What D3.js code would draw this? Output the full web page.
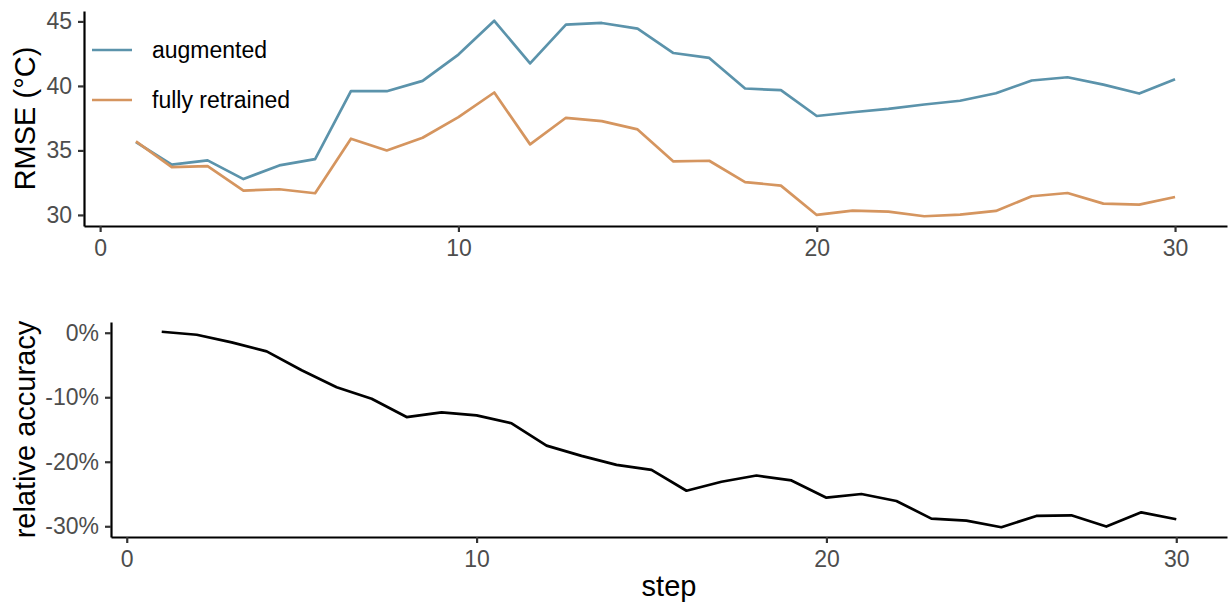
<!DOCTYPE html>
<html>
<head>
<meta charset="utf-8">
<script src="https://cdn.jsdelivr.net/npm/d3@7"></script>
<style>
  html, body { margin: 0; padding: 0; background: #fff; }
  svg { display: block; font-family: "Liberation Sans", Arial, sans-serif; }
</style>
</head>
<body>
<svg id="chart" width="1229" height="606"></svg>
<script>
// Steps 1..30
const steps = d3.range(1, 31);

// RMSE (°C) per step
const augmented = [35.64, 33.90, 34.23, 32.78, 33.84, 34.33, 39.59, 39.59, 40.39, 42.43,
                   45.05, 41.75, 44.75, 44.88, 44.44, 42.55, 42.17, 39.80, 39.67, 37.67,
                   37.96, 38.22, 38.56, 38.85, 39.43, 40.42, 40.67, 40.10, 39.41, 40.52];
const fullyRetrained = [35.70, 33.71, 33.79, 31.89, 31.99, 31.68, 35.91, 35.00, 35.98, 37.58,
                        39.49, 35.47, 37.53, 37.27, 36.63, 34.15, 34.20, 32.55, 32.27, 30.00,
                        30.34, 30.26, 29.90, 30.03, 30.31, 31.45, 31.70, 30.88, 30.80, 31.39];

// Relative accuracy (fraction)
const relativeAccuracy = [0.0015, -0.0031, -0.0150, -0.0289, -0.0582, -0.0844, -0.1024, -0.1307, -0.1235, -0.1281,
                          -0.1404, -0.1750, -0.1909, -0.2048, -0.2125, -0.2449, -0.2310, -0.2213, -0.2290, -0.2557,
                          -0.2500, -0.2608, -0.2881, -0.2912, -0.3015, -0.2840, -0.2830, -0.3005, -0.2784, -0.2892];

const seriesNames = ["augmented", "fully retrained"];
const seriesColors = ["#5b93ab", "#d5955f"];

const xTicks = [0, 10, 20, 30];
const rmseTicks = [30, 35, 40, 45];
const relTicks = [0, -0.1, -0.2, -0.3];

const svg = d3.select("#chart");
const tickFont = "23px";
const titleFont = "29px";
const lineWidth = 2.7;

// expand a [min,max] extent by 5% each side
function expand(ext) {
  const pad = (ext[1] - ext[0]) * 0.05;
  return [ext[0] - pad, ext[1] + pad];
}

function styleAxis(g) {
  g.select(".domain").attr("stroke", "#000").attr("stroke-width", 2.2);
  g.selectAll(".tick line").attr("stroke", "#333").attr("stroke-width", 2.2);
  g.selectAll(".tick text").attr("fill", "#4d4d4d").style("font-size", tickFont)
    .style("font-family", "'Liberation Sans', Arial, sans-serif");
}

// ---- upper panel: RMSE
const upper = { left: 84, right: 1227, top: 11, bottom: 226 };
const xUp = d3.scaleLinear().domain(expand([1, 30])).range([upper.left, upper.right]);
const yUp = d3.scaleLinear()
  .domain(expand([d3.min(fullyRetrained.concat(augmented)), d3.max(fullyRetrained.concat(augmented))]))
  .range([upper.bottom, upper.top]);

const gUp = svg.append("g");
[augmented, fullyRetrained].forEach((vals, i) => {
  gUp.append("path")
    .datum(vals)
    .attr("fill", "none")
    .attr("stroke", seriesColors[i])
    .attr("stroke-width", lineWidth)
    .attr("stroke-linejoin", "round")
    .attr("d", d3.line().x((d, j) => xUp(steps[j])).y(d => yUp(d)));
});

gUp.append("g").attr("transform", `translate(0,${upper.bottom})`)
  .call(d3.axisBottom(xUp).tickValues(xTicks).tickSize(6).tickPadding(8).tickSizeOuter(0))
  .call(styleAxis);
gUp.append("g").attr("transform", `translate(${upper.left},0)`)
  .call(d3.axisLeft(yUp).tickValues(rmseTicks).tickSize(6).tickPadding(6).tickSizeOuter(0))
  .call(styleAxis);

svg.append("text")
  .attr("transform", `translate(35,${(upper.top + upper.bottom) / 2}) rotate(-90)`)
  .attr("text-anchor", "middle")
  .style("font-size", titleFont).attr("fill", "#000")
  .text("RMSE (°C)");

// legend
const legend = svg.append("g");
seriesNames.forEach((name, i) => {
  const ly = 50 + i * 50;
  legend.append("line").attr("x1", 92).attr("x2", 132).attr("y1", ly).attr("y2", ly)
    .attr("stroke", seriesColors[i]).attr("stroke-width", lineWidth);
  legend.append("text").attr("x", 152).attr("y", ly + 8)
    .style("font-size", tickFont).attr("fill", "#000").text(name);
});

// ---- lower panel: relative accuracy
const lower = { left: 111, right: 1227, top: 322, bottom: 537 };
const xLow = d3.scaleLinear().domain(expand([1, 30])).range([lower.left, lower.right]);
const yLow = d3.scaleLinear().domain(expand(d3.extent(relativeAccuracy))).range([lower.bottom, lower.top]);

const gLow = svg.append("g");
gLow.append("path")
  .datum(relativeAccuracy)
  .attr("fill", "none")
  .attr("stroke", "#000")
  .attr("stroke-width", lineWidth)
  .attr("stroke-linejoin", "round")
  .attr("d", d3.line().x((d, j) => xLow(steps[j])).y(d => yLow(d)));

gLow.append("g").attr("transform", `translate(0,${lower.bottom})`)
  .call(d3.axisBottom(xLow).tickValues(xTicks).tickSize(6).tickPadding(8).tickSizeOuter(0))
  .call(styleAxis);
gLow.append("g").attr("transform", `translate(${lower.left},0)`)
  .call(d3.axisLeft(yLow).tickValues(relTicks).tickSize(6).tickPadding(6).tickSizeOuter(0)
    .tickFormat(d => `${Math.round(d * 100)}%`))
  .call(styleAxis);

svg.append("text")
  .attr("transform", `translate(35,${(lower.top + lower.bottom) / 2}) rotate(-90)`)
  .attr("text-anchor", "middle")
  .style("font-size", titleFont).attr("fill", "#000")
  .text("relative accuracy");

svg.append("text")
  .attr("x", (lower.left + lower.right) / 2).attr("y", 596)
  .attr("text-anchor", "middle")
  .style("font-size", titleFont).attr("fill", "#000")
  .text("step");
</script>
</body>
</html>
